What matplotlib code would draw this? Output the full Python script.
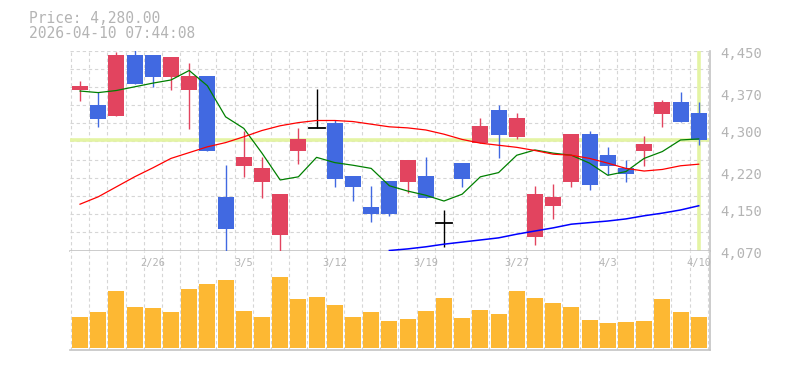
import numpy as np
import matplotlib
matplotlib.use("Agg")
import matplotlib.pyplot as plt
import matplotlib.transforms as mtransforms

# 日足データ (読み取り値)
opens = [4375, 4346, 4325, 4441, 4441, 4400, 4375, 4401, 4172, 4230,
         4201, 4099, 4260, 4302, 4312, 4212, 4153, 4202, 4201, 4212,
         4122, 4236, 4275, 4337, 4286, 4096, 4155, 4201, 4291, 4251,
         4227, 4259, 4330, 4352, 4331]
highs = [4392, 4371, 4447, 4455, 4441, 4437, 4427, 4401, 4232, 4298,
         4248, 4177, 4303, 4377, 4318, 4212, 4193, 4202, 4242, 4248,
         4147, 4236, 4322, 4346, 4331, 4193, 4196, 4291, 4297, 4267,
         4242, 4288, 4356, 4371, 4352]
lows = [4354, 4305, 4325, 4386, 4381, 4375, 4301, 4259, 4060, 4210,
        4170, 4066, 4234, 4302, 4191, 4164, 4125, 4136, 4180, 4170,
        4076, 4191, 4275, 4246, 4281, 4081, 4130, 4191, 4185, 4213,
        4201, 4231, 4305, 4315, 4271]
closes = [4382, 4320, 4441, 4386, 4400, 4437, 4401, 4259, 4111, 4248,
          4227, 4177, 4282, 4302, 4206, 4191, 4140, 4140, 4242, 4170,
          4122, 4206, 4306, 4290, 4322, 4177, 4172, 4291, 4194, 4231,
          4216, 4272, 4352, 4315, 4280]
volumes = [310, 360, 570, 410, 400, 360, 590, 640, 680, 370,
           310, 710, 490, 510, 430, 310, 360, 270, 290, 370,
           500, 300, 380, 340, 570, 500, 450, 410, 280, 250,
           260, 270, 490, 360, 310]

ma5 = [4373, 4370, 4374, 4381, 4388, 4394, 4412, 4383, 4324, 4302,
       4255, 4204, 4210, 4247, 4237, 4232, 4226, 4193, 4183, 4175,
       4164, 4177, 4210, 4218, 4251, 4261, 4255, 4251, 4236, 4213,
       4220, 4245, 4258, 4280, 4282]
ma25 = [4158, 4172, 4191, 4210, 4227, 4245, 4256, 4267, 4275, 4286,
        4298, 4307, 4313, 4317, 4317, 4315, 4310, 4305, 4303, 4299,
        4291, 4281, 4274, 4270, 4266, 4260, 4253, 4251, 4245, 4236,
        4226, 4221, 4224, 4231, 4234]
ma75 = [None] * 17 + [4070, 4073, 4077, 4082, 4086, 4090, 4094, 4101, 4107,
                      4113, 4120, 4123, 4126, 4130, 4136, 4141, 4147, 4155]

date_pos = [4, 9, 14, 19, 24, 29, 34]
date_labels = ["2/26", "3/5", "3/12", "3/19", "3/27", "4/3", "4/10"]

price_ticks = [4070, 4150, 4220, 4300, 4370, 4450]
price_labels = ["4,070", "4,150", "4,220", "4,300", "4,370", "4,450"]
last_price = 4280

RED = "#e2445f"
BLUE = "#4169e1"
GRID = "#d6d6d6"
EDGE = "#c4c4c4"
TXT = "#b4b4b4"
HL = "#e4f4a4"
FONT = "DejaVu Sans Mono"

W, H = 785, 370
fig = plt.figure(figsize=(W / 100, H / 100), dpi=100)

def box(l, t, r, b):
    return [l / W, 1 - b / H, (r - l) / W, (b - t) / H]

ax = fig.add_axes(box(70, 50.5, 710, 250.5))
axv = fig.add_axes(box(70, 250.5, 710, 349.5))

n = len(closes)
x = np.arange(n)
xlim = (-0.55, 34.62)

for a in (ax, axv):
    a.set_xlim(*xlim)
    for s in a.spines.values():
        s.set_visible(False)
    for s in ("right", "bottom"):
        a.spines[s].set_visible(True)
        a.spines[s].set_color(EDGE)
        a.spines[s].set_linewidth(1.2)
    a.set_xticks([])
    for gx in np.arange(-0.5, n, 1.0):
        a.axvline(gx, color=GRID, lw=0.8, ls=(0, (3, 2.5)), zorder=0)

# 価格パネル
ax.set_ylim(4070, 4450)
for gy in np.linspace(4070, 4450, 12):
    ax.axhline(gy, color=GRID, lw=0.8, ls=(0, (3, 2.5)), zorder=0)

ax.axhline(last_price, color=HL, lw=2.6, zorder=1)
ax.axvline(x[-1], color=HL, lw=2.6, zorder=1)

bw = 0.88
for i in range(n):
    o, h, l, c = opens[i], highs[i], lows[i], closes[i]
    if c > o:
        col = RED
    elif c < o:
        col = BLUE
    else:
        col = "black"
    ax.plot([i, i], [l, h], color=col, lw=1.0, zorder=3, solid_capstyle="butt")
    if c == o:
        ax.plot([i - bw / 2, i + bw / 2], [o, o], color=col, lw=1.3, zorder=4)
    else:
        ax.bar(i, abs(c - o), bottom=min(o, c), width=bw, color=col, zorder=4)

ma75_arr = np.array([np.nan if v is None else v for v in ma75], dtype=float)
ax.plot(x, ma5, color="#008000", lw=0.9, zorder=5)
ax.plot(x, ma25, color="#ff0000", lw=0.9, zorder=5)
ax.plot(x, ma75_arr, color="#0000ff", lw=1.1, zorder=5, clip_on=False)

ax.yaxis.tick_right()
ax.set_yticks(price_ticks)
ax.set_yticklabels(price_labels)
ax.tick_params(axis="y", length=0, pad=7.5, labelsize=10, labelcolor=TXT)
offset = mtransforms.ScaledTranslation(0, -2 / 100, fig.dpi_scale_trans)
for lab in ax.get_yticklabels():
    lab.set_fontfamily(FONT)
    lab.set_transform(lab.get_transform() + offset)

# 出来高パネル
axv.bar(x, volumes, width=bw, color="#fdb833", zorder=3)
axv.set_ylim(-15, 975)
axv.set_yticks([])
for p, lab in zip(date_pos, date_labels):
    axv.text(p, 0.875, lab, transform=axv.get_xaxis_transform(), ha="center",
             va="center", fontsize=7.5, color=TXT, family=FONT)

fig.text(29 / W, 1 - 22.7 / H, "Price: 4,280.00", fontsize=10.5, color=TXT,
         family=FONT, va="baseline")
fig.text(29 / W, 1 - 38.3 / H, "2026-04-10 07:44:08", fontsize=10.5, color=TXT,
         family=FONT, va="baseline")

fig.savefig("out.png", dpi=100)
